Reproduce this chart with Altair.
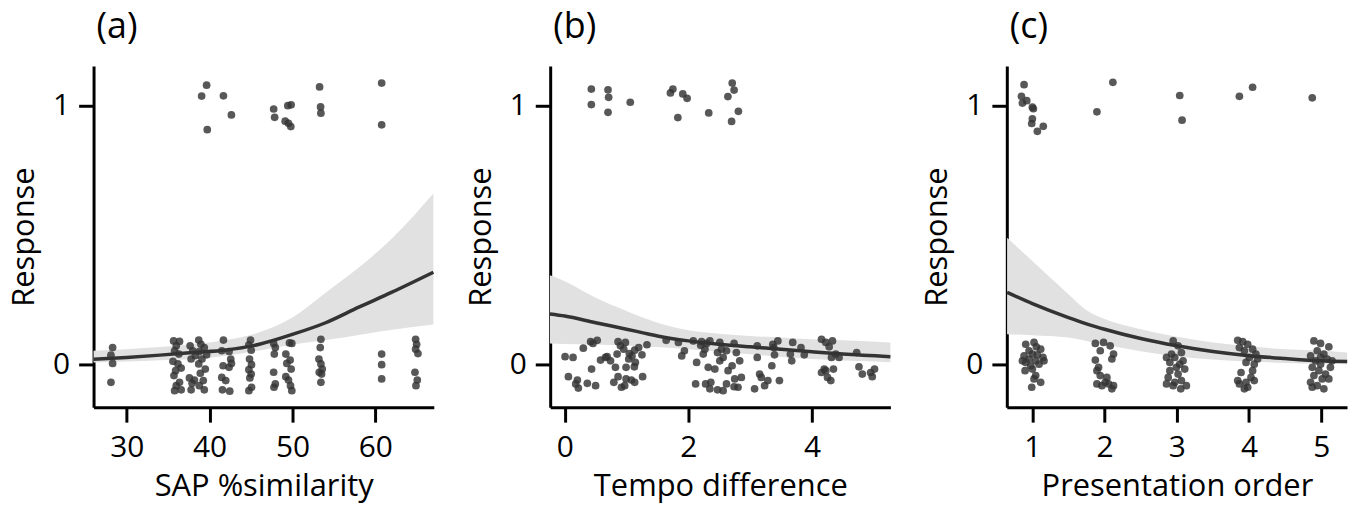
import altair as alt
import pandas as pd

FONT = "Open Sans"
DOT = "#333333"
LINE = "#333333"
BAND = "#e1e1e1"

# ---------------- Panel (a): SAP %similarity ----------------
a_x = [39.64, 39.04, 39.72, 41.67, 42.63, 47.73, 47.85, 49.12, 49.44, 49.84, 49.52, 49.80,
       53.27, 53.39, 53.43, 60.76, 60.76,
       28.3, 28.1, 28.3, 28.1,
       35.66, 36.37, 35.98, 35.78, 36.29, 35.58, 36.18, 36.57, 35.90, 35.70, 36.37, 35.98, 35.78, 36.57,
       37.65, 37.97, 38.29, 37.77, 37.57, 38.17, 37.89, 37.77,
       38.69, 38.96, 39.36, 38.76, 39.64, 39.08, 38.69, 39.48, 38.88, 39.24, 38.76, 39.36,
       41.67, 41.47, 42.35, 42.55, 41.63, 42.35, 41.47, 41.95, 41.55, 42.43, 42.63,
       44.94, 44.74, 45.02, 44.82, 45.06, 44.74, 45.02, 44.86, 45.06, 44.74,
       47.73, 47.93, 47.81, 47.73, 47.93, 47.77,
       49.64, 49.92, 49.20, 49.72, 49.32, 49.84, 49.20, 49.52, 49.76, 49.92,
       53.43, 53.35, 53.19, 53.43, 53.59, 53.23, 53.51, 53.43,
       60.76, 60.76, 60.76,
       64.86, 64.98, 64.86, 65.14, 64.78, 65.06, 64.90]
a_y = [1.079, 1.037, 0.907, 1.038, 0.964, 0.987, 0.955, 0.940, 1.000, 1.003, 0.932, 0.919,
       1.072, 0.995, 0.971, 1.087, 0.926,
       0.066, 0.037, 0.005, -0.068,
       0.092, 0.090, 0.073, 0.054, 0.041, 0.013, 0.003, -0.013, -0.023, -0.042, -0.068, -0.081, -0.100, -0.097,
       0.073, 0.054, 0.035, 0.022, -0.051, -0.059, -0.072, -0.097,
       0.095, 0.079, 0.066, 0.051, 0.038, 0.022, 0.003, -0.017, -0.033, -0.061, -0.081, -0.097,
       0.095, 0.054, 0.051, 0.022, -0.004, -0.010, -0.049, -0.061, -0.097, -0.102, 0.005,
       0.095, 0.077, 0.056, 0.022, 0.000, -0.019, -0.036, -0.051, -0.087, -0.100,
       0.082, 0.066, 0.041, -0.029, -0.074, -0.087,
       0.084, 0.082, 0.041, 0.018, 0.005, -0.017, -0.046, -0.059, -0.081, -0.100,
       0.098, 0.066, 0.022, 0.003, -0.017, -0.029, -0.036, -0.068,
       0.041, 0.000, -0.055,
       0.098, 0.079, 0.060, 0.043, -0.029, -0.059, -0.081]
a_fit_x = [26, 30, 34, 38, 42, 46, 50, 54, 58, 62, 67]
a_fit = [0.021, 0.028, 0.037, 0.047, 0.057, 0.079, 0.117, 0.162, 0.222, 0.280, 0.357]
a_hi = [0.054, 0.060, 0.068, 0.079, 0.095, 0.125, 0.182, 0.278, 0.375, 0.487, 0.661]
a_lo = [0.009, 0.012, 0.017, 0.022, 0.035, 0.055, 0.078, 0.095, 0.115, 0.135, 0.155]

# ---------------- Panel (b): Tempo difference ----------------
b_x = [0.43, 0.43, 0.70, 0.71, 0.70, 1.06, 1.71, 1.75, 1.91, 1.98, 1.83, 2.33, 2.71, 2.74, 2.64, 2.81, 2.70,
       0.005, 0.134, 0.059, 0.204, 0.220, 0.177, 0.365, 0.499, 0.434, 0.300, 0.418, 0.525, 0.456, 0.579,
       0.659, 0.740, 0.686, 0.820, 0.794, 0.863, 0.917, 0.970, 0.992, 1.078, 1.131, 1.260, 0.863, 0.901,
       0.981, 0.954, 1.045, 1.088, 1.131, 1.035, 1.142, 1.126, 0.992, 1.196, 1.249, 1.330, 0.847,
       1.641, 1.839, 1.936, 1.893, 2.134, 2.080, 2.214, 2.268, 2.295, 2.348, 2.241, 2.322, 2.429, 2.472,
       2.509, 2.536, 2.509, 2.617, 2.563, 2.643, 2.708, 2.740, 2.777, 2.831, 2.858, 2.804, 2.740, 2.750,
       2.617, 2.472, 2.348, 2.279, 2.118, 2.364, 2.563, 2.200,
       3.115, 3.115, 3.153, 3.180, 3.234, 3.287, 3.351, 3.384, 3.394, 3.448, 3.474, 3.072, 3.367,
       3.651, 3.689, 3.673, 3.823, 3.876,
       4.155, 4.225, 4.332, 4.279, 4.386, 4.439, 4.316, 4.198, 4.155, 4.252, 4.305, 4.225, 4.348,
       4.724, 4.761, 4.815, 4.949, 5.013, 4.976]
b_y = [1.064, 1.004, 1.061, 1.032, 0.974, 1.013, 1.049, 1.064, 1.045, 1.028, 0.954, 0.972, 1.087, 1.060, 1.035, 0.978, 0.939,
       0.031, 0.028, -0.046, -0.059, -0.090, -0.074, -0.072, -0.081, -0.017, 0.064, 0.089, 0.094, 0.082, 0.018,
       0.028, 0.015, 0.031, -0.010, -0.068, -0.046, -0.087, -0.081, -0.055, -0.059, -0.068, -0.046, 0.089, 0.073,
       0.086, 0.060, 0.043, 0.034, 0.056, 0.022, 0.009, -0.008, -0.010, 0.066, 0.038, 0.077, 0.041,
       0.094, 0.086, 0.054, 0.034, 0.009, 0.092, 0.089, 0.060, 0.082, 0.092, 0.041, -0.010, -0.017, 0.047,
       0.015, 0.060, 0.086, 0.054, 0.028, -0.023, -0.004, 0.082, 0.047, 0.015, -0.049, -0.087, -0.085, -0.055,
       -0.074, -0.097, -0.093, -0.074, -0.074, -0.068, -0.100, 0.075,
       0.073, 0.028, -0.036, -0.049, -0.081, -0.061, -0.004, 0.066, 0.038, 0.092, -0.061, -0.093, 0.079,
       0.041, 0.086, 0.015, 0.066, 0.038,
       0.098, 0.086, 0.092, 0.069, 0.041, 0.028, 0.028, -0.017, -0.030, -0.049, -0.061, -0.023, -0.017,
       0.047, -0.008, -0.036, -0.030, -0.017, -0.046]
b_fit_x = [-0.24, 0, 0.5, 1, 1.25, 1.5, 2, 2.5, 3, 3.5, 4, 4.5, 5.27]
b_fit = [0.196, 0.188, 0.162, 0.137, 0.124, 0.111, 0.092, 0.079, 0.069, 0.060, 0.050, 0.041, 0.031]
b_hi = [0.345, 0.322, 0.258, 0.207, 0.183, 0.162, 0.133, 0.120, 0.111, 0.105, 0.098, 0.094, 0.086]
b_lo = [0.082, 0.080, 0.078, 0.074, 0.071, 0.068, 0.060, 0.050, 0.040, 0.030, 0.022, 0.016, 0.010]

# ---------------- Panel (c): Presentation order ----------------
c_x = [0.885, 0.849, 0.862, 0.922, 1.000, 1.014, 1.000, 0.991, 1.069, 1.151, 1.894, 2.115, 3.041, 3.073, 3.867, 4.050, 4.876,
       0.908, 1.023, 1.055, 0.954, 0.885, 1.000, 1.115, 1.147, 1.046, 0.908, 0.977, 1.092, 1.161, 0.899,
       1.000, 1.046, 0.991, 1.115, 1.023, 0.954, 1.069, 0.862,
       1.872, 1.986, 2.078, 1.940, 2.124, 1.872, 2.101, 1.917, 1.894, 1.940, 2.032, 1.894, 1.963, 2.055,
       2.124, 2.101, 2.009,
       2.950, 3.018, 2.927, 2.858, 2.972, 3.064, 3.087, 3.041, 2.904, 2.995, 3.110, 2.881, 3.018, 3.064,
       2.858, 2.950, 3.055, 3.133, 2.972, 2.904,
       3.844, 3.913, 3.982, 3.867, 4.050, 4.096, 3.936, 4.005, 4.119, 3.959, 4.073, 4.050, 3.890, 4.028,
       3.959, 3.867, 4.073, 3.982, 3.844, 3.936,
       4.899, 4.991, 5.106, 4.945, 4.853, 5.037, 4.922, 5.083, 4.991, 4.876, 5.128, 4.968, 5.060, 4.899,
       5.014, 4.853, 5.106, 4.945, 5.037, 4.876, 4.991, 5.151]
c_y = [1.081, 1.036, 1.010, 1.019, 0.994, 0.988, 0.949, 0.931, 0.901, 0.920, 0.976, 1.090, 1.039, 0.944, 1.036, 1.071, 1.030,
       0.079, 0.086, 0.069, 0.054, 0.034, 0.041, 0.060, 0.028, 0.015, 0.009, -0.004, 0.002, 0.015, -0.023,
       -0.017, -0.042, -0.087, -0.068, -0.055, 0.022, 0.038, 0.015,
       0.082, 0.086, 0.073, 0.054, 0.041, 0.018, 0.022, -0.010, -0.023, -0.042, -0.049, -0.074, -0.081, -0.074,
       -0.081, -0.093, -0.068,
       0.092, 0.073, 0.041, 0.028, 0.028, 0.047, 0.015, 0.002, 0.009, -0.010, -0.017, -0.049, -0.036, -0.061,
       -0.074, -0.081, -0.093, -0.081, -0.068, -0.023,
       0.094, 0.089, 0.079, 0.066, 0.060, 0.041, 0.054, 0.028, 0.022, 0.009, 0.002, -0.023, -0.030, -0.049,
       -0.068, -0.074, -0.061, -0.087, -0.061, -0.093,
       0.092, 0.082, 0.069, 0.054, 0.034, 0.041, 0.015, 0.022, 0.002, -0.010, -0.010, -0.023, -0.036, -0.042,
       -0.055, -0.068, -0.055, -0.081, -0.093, -0.087, 0.028, 0.015]
c_fit_x = [0.65, 1, 1.5, 1.75, 2, 2.5, 3, 3.5, 4, 4.5, 5, 5.36]
c_fit = [0.279, 0.236, 0.182, 0.158, 0.137, 0.101, 0.073, 0.051, 0.035, 0.024, 0.015, 0.012]
c_hi = [0.490, 0.400, 0.272, 0.210, 0.176, 0.137, 0.108, 0.086, 0.071, 0.060, 0.054, 0.047]
c_lo = [0.118, 0.114, 0.105, 0.092, 0.078, 0.052, 0.032, 0.020, 0.012, 0.007, 0.004, 0.002]

Y_DOMAIN = [-0.164, 1.153]
W, H = 342, 343


def panel(label, xtitle, xs, ys, fx, fy, fhi, flo, xdom, xticks):
    pts = pd.DataFrame({"x": xs, "y": ys})
    fit = pd.DataFrame({"x": fx, "fit": fy, "hi": fhi, "lo": flo})
    xs_ = alt.Scale(domain=xdom, nice=False, zero=False)
    ys_ = alt.Scale(domain=Y_DOMAIN, nice=False, zero=False)
    xax = alt.Axis(values=xticks, format="d", title=xtitle, labelPadding=11, titlePadding=9)
    yax = alt.Axis(values=[0, 1], format="d", title="Response", labelPadding=9, titlePadding=12)
    band = alt.Chart(fit).mark_area(color=BAND, opacity=1, interpolate="monotone").encode(
        x=alt.X("x:Q", scale=xs_, axis=xax),
        y=alt.Y("lo:Q", scale=ys_, axis=yax),
        y2="hi:Q",
    )
    dots = alt.Chart(pts).mark_circle(color=DOT, opacity=0.82, size=60).encode(
        x=alt.X("x:Q", scale=xs_), y=alt.Y("y:Q", scale=ys_)
    )
    line = alt.Chart(fit).mark_line(color=LINE, strokeWidth=3.5, interpolate="monotone").encode(
        x=alt.X("x:Q", scale=xs_), y=alt.Y("fit:Q", scale=ys_)
    )
    return alt.layer(band, dots, line).properties(
        width=W, height=H,
        title=alt.TitleParams(label, anchor="start", frame="group", dx=3, offset=20,
                              baseline="top"),
    )


pa = panel("(a)", "SAP %similarity", a_x, a_y, a_fit_x, a_fit, a_hi, a_lo, [26.0, 67.05], [30, 40, 50, 60])
pb = panel("(b)", "Tempo difference", b_x, b_y, b_fit_x, b_fit, b_hi, b_lo, [-0.236, 5.27], [0, 2, 4])
pc = panel("(c)", "Presentation order", c_x, c_y, c_fit_x, c_fit, c_hi, c_lo, [0.646, 5.358], [1, 2, 3, 4, 5])

chart = alt.hconcat(pa, pb, pc, spacing=117, bounds="flush").properties(
    padding={"left": 0, "top": 0, "right": 0, "bottom": 0}
).configure_view(stroke=None).configure_axis(
    grid=False, domainColor="black", domainWidth=3, domainCap="butt",
    tickColor="black", tickWidth=3, tickSize=15,
    labelFont=FONT, labelFontSize=30, labelColor="black",
    titleFont=FONT, titleFontSize=31, titleFontWeight="normal", titleColor="black",
).configure_title(font=FONT, fontSize=36, fontWeight="normal", color="black")

chart.save("out.html", embed_options={"renderer": "svg", "actions": False})
